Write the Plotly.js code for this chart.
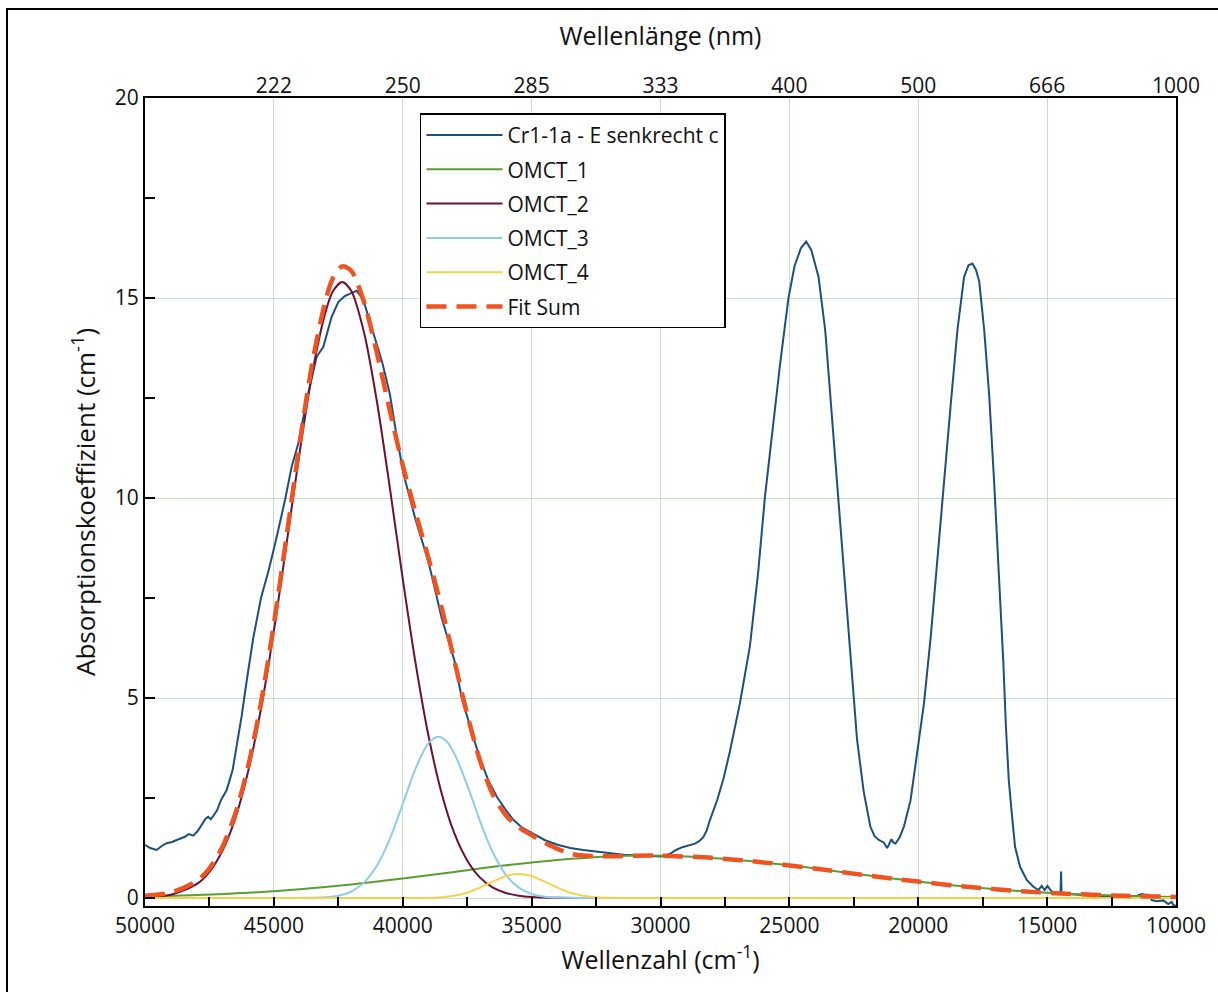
<!DOCTYPE html>
<html>
<head>
<meta charset="utf-8">
<script src="https://cdn.plot.ly/plotly-3.0.1.min.js"></script>
<style>
  html, body { margin: 0; padding: 0; background: #fff; }
  #wrap { position: relative; width: 1218px; height: 992px; }
  #chart { width: 1218px; height: 992px; }
  #frame { position: absolute; left: 6px; top: 8px; width: 1212px; height: 984px;
           border-left: 2px solid #000; border-top: 2px solid #000; pointer-events: none; box-sizing: border-box; }
</style>
</head>
<body>
<div id="wrap">
  <div id="chart"></div>
  <div id="frame"></div>
</div>
<script>
// ---- Data ----
const specWn = [50000,49800,49550,49350,49160,48950,48770,48600,48450,48300,48125,47950,47800,47650,47550,47450,47350,47200,47050,46830,46600,46440,46250,46050,45800,45500,45200,44900,44568,44310,44050,43727,43500,43340,43080,42760,42500,42250,42000,41786,41530,41140,40800,40500,40250,39970,39500,39000,38490,38000,37710,37300,36990,36650,36350,36000,35700,35350,34990,34500,34000,33500,33000,32470,32000,31434,30800,30000,29642,29400,29153,28900,28664,28500,28338,28200,28094,27800,27550,27312,26922,26532,26208,25948,25623,25364,25040,24800,24550,24350,24150,23870,23610,23416,23156,22896,22636,22377,22117,21857,21700,21532,21338,21260,21208,21150,21080,21039,20960,20883,20720,20558,20299,20000,19779,19519,19260,19000,18740,18480,18221,18050,17896,17760,17636,17441,17247,17052,16857,16700,16600,16488,16373,16244,16050,15790,15534,15340,15210,15100,14990,14820,14564,14480,14460,14440,14200,13600,13000,12558,12000,11523,11330,11200,11070,10940,10750,10490,10300,10170,10080,10000];
const specAbs = [1.33,1.25,1.2,1.3,1.37,1.4,1.45,1.5,1.53,1.6,1.56,1.68,1.82,1.98,2.03,1.97,2.05,2.2,2.45,2.7,3.2,3.78,4.55,5.45,6.5,7.5,8.2,9.0,9.95,10.78,11.37,12.45,13.1,13.53,13.78,14.53,14.9,15.05,15.12,15.18,14.95,14.12,13.4,12.6,11.6,10.6,9.45,8.4,7.0,5.95,5.0,4.1,3.45,2.9,2.53,2.2,1.95,1.75,1.62,1.45,1.33,1.25,1.2,1.16,1.12,1.08,1.06,1.04,1.1,1.2,1.27,1.32,1.36,1.42,1.52,1.7,1.93,2.45,3.0,3.65,4.86,6.29,8.16,10.03,11.9,13.33,14.98,15.8,16.25,16.41,16.2,15.53,14.2,12.56,10.36,8.16,5.96,3.98,2.66,1.78,1.55,1.45,1.39,1.32,1.25,1.32,1.45,1.47,1.38,1.36,1.52,1.78,2.44,3.76,4.86,6.51,8.49,10.36,12.34,14.2,15.53,15.82,15.86,15.7,15.42,14.2,12.56,10.36,8.0,5.9,4.3,2.95,2.12,1.28,0.78,0.45,0.28,0.2,0.3,0.2,0.3,0.16,0.12,0.12,0.66,0.12,0.1,0.08,0.05,0.03,0.04,0.05,0.1,0.08,0.08,-0.05,-0.08,-0.06,-0.15,-0.1,-0.2,-0.18];

const omct1Wn = [50000,48000,46000,44000,42000,40000,38000,36000,34000,32000,30500,29000,27000,25000,23000,21000,19000,17000,15000,13000,11000,10000];
const omct1Abs = [0.039,0.075,0.132,0.219,0.337,0.485,0.651,0.816,0.953,1.04,1.06,1.04,0.953,0.816,0.651,0.485,0.337,0.219,0.132,0.075,0.039,0.028];

const omct2Wn = [50000,49000,48000,47500,47000,46500,46000,45500,45000,44500,44000,43500,43000,42700,42350,42000,41500,41000,40500,40000,39500,39000,38500,38000,37500,37000,36500,36000,35500,35000,34000,33000,10000];
const omct2Abs = [0.015,0.08,0.345,0.656,1.175,1.985,3.16,4.73,6.68,8.89,11.14,13.16,14.64,15.18,15.4,15.18,14.13,12.4,10.25,7.98,5.86,4.05,2.64,1.62,0.94,0.51,0.26,0.127,0.058,0.025,0.004,0,0];

const omct3Wn = [50000,44000,43000,42500,42000,41500,41000,40500,40000,39500,39000,38620,38300,38000,37500,37000,36500,36000,35500,35000,34500,34000,33000,10000];
const omct3Abs = [0,0.003,0.018,0.057,0.16,0.39,0.81,1.48,2.35,3.24,3.87,4.03,3.92,3.61,2.83,1.92,1.13,0.58,0.26,0.1,0.033,0.01,0,0];

const omct4Wn = [50000,39500,39000,38500,38000,37500,37000,36500,36000,35500,35000,34500,34000,33500,33000,32500,32000,31500,10000];
const omct4Abs = [0,0,0.002,0.02,0.056,0.13,0.26,0.41,0.55,0.6,0.55,0.41,0.26,0.13,0.056,0.02,0.005,0,0];

const fitWn = [50000,49000,48000,47500,47000,46500,46000,45500,45000,44500,44000,43500,43000,42700,42350,42000,41500,41000,40500,40000,39500,39000,38500,38000,37500,37000,36500,36000,35500,35000,34500,34000,33500,33000,32000,31000,30000,28000,26000,24000,22000,20000,18000,16000,14000,12000,10000];
const fitAbs = [0.054,0.135,0.42,0.743,1.275,2.1,3.29,4.88,6.85,9.08,11.36,13.41,14.93,15.51,15.79,15.68,14.89,13.62,12.18,10.82,9.63,8.49,7.28,5.94,4.59,3.43,2.58,2.07,1.77,1.57,1.38,1.23,1.11,1.06,1.045,1.058,1.058,1.004,0.89,0.735,0.567,0.41,0.274,0.17,0.1,0.055,0.028];

const waveTickVals = [45000,40000,35000,30000,25000,20000,15000,10000];
const waveTickText = ['222','250','285','333','400','500','666','1000'];

const seriesNames = ['Cr1-1a - E senkrecht c','OMCT_1','OMCT_2','OMCT_3','OMCT_4','Fit Sum'];
const seriesColors = ['#1d4f7f','#5a9e31','#6d1032','#8fcbea','#f3d34a','#f0531f'];

// ---- Traces ----
const traces = [
  {x: specWn, y: specAbs, name: seriesNames[0], mode: 'lines', line: {color: seriesColors[0], width: 2, shape: 'linear'}, legendgroup: 'g0'},
  {x: omct1Wn, y: omct1Abs, name: seriesNames[1], mode: 'lines', line: {color: seriesColors[1], width: 2, shape: 'spline', smoothing: 1}, legendgroup: 'g1'},
  {x: omct2Wn, y: omct2Abs, name: seriesNames[2], mode: 'lines', line: {color: seriesColors[2], width: 2, shape: 'spline', smoothing: 0.8}, legendgroup: 'g2'},
  {x: omct3Wn, y: omct3Abs, name: seriesNames[3], mode: 'lines', line: {color: seriesColors[3], width: 2, shape: 'spline', smoothing: 0.8}, legendgroup: 'g3'},
  {x: omct4Wn, y: omct4Abs, name: seriesNames[4], mode: 'lines', line: {color: seriesColors[4], width: 2, shape: 'spline', smoothing: 0.8}, legendgroup: 'g4'},
  {x: fitWn, y: fitAbs, name: seriesNames[5], mode: 'lines', line: {color: seriesColors[5], width: 4.5, dash: '20px,10px', shape: 'spline', smoothing: 0.8}, legendgroup: 'g5'},
  {x: [50000, 10000], y: [null, null], xaxis: 'x2', mode: 'lines', showlegend: false, hoverinfo: 'skip'}
];

const font = 'Open Sans, Noto Sans, sans-serif';
const gridColor = '#c9dec9';

const layout = {
  width: 1218, height: 992,
  margin: {l: 145, r: 42, t: 98, b: 86},
  paper_bgcolor: '#ffffff', plot_bgcolor: '#ffffff',
  font: {family: font, color: '#111', size: 21},
  showlegend: true,
  legend: {
    x: 0.2667, y: 0.981, xanchor: 'left', yanchor: 'top',
    bgcolor: '#ffffff', bordercolor: '#000', borderwidth: 1.5,
    font: {family: font, size: 21, color: '#111'},
    traceorder: 'grouped', tracegroupgap: 4, itemwidth: 76
  },
  xaxis: {
    range: [50000, 10000], autorange: false,
    tickvals: [50000,45000,40000,35000,30000,25000,20000,15000,10000],
    ticktext: ['50000','45000','40000','35000','30000','25000','20000','15000','10000'],
    ticks: 'inside', ticklen: 9, tickwidth: 2, tickcolor: '#000',
    minor: {tickvals: [47500,42500,37500,32500,27500,22500,17500,12500], ticks: 'inside', ticklen: 9, tickwidth: 2, tickcolor: '#000', showgrid: false},
    showline: true, linecolor: '#000', linewidth: 2, mirror: true,
    showgrid: true, gridcolor: gridColor, gridwidth: 1,
    zeroline: false,
    tickfont: {family: font, size: 21, color: '#111'},
    title: {text: 'Wellenzahl (cm<sup>-1</sup>)', font: {family: font, size: 25, color: '#111'}, standoff: 10}
  },
  xaxis2: {
    overlaying: 'x', side: 'top', range: [50000, 10000], autorange: false,
    tickmode: 'array', tickvals: waveTickVals, ticktext: waveTickText,
    ticks: '', showline: false, showgrid: false, zeroline: false,
    tickfont: {family: font, size: 21, color: '#111'},
    title: {text: 'Wellenlänge (nm)', font: {family: font, size: 25, color: '#111'}, standoff: 18}
  },
  yaxis: {
    range: [-0.2, 20], autorange: false,
    tickvals: [0,5,10,15,20], ticktext: ['0','5','10','15','20'],
    ticks: 'inside', ticklen: 10, tickwidth: 2, tickcolor: '#000',
    minor: {tickvals: [2.5,7.5,12.5,17.5], ticks: 'inside', ticklen: 10, tickwidth: 2, tickcolor: '#000', showgrid: false},
    showline: true, linecolor: '#000', linewidth: 2, mirror: true,
    showgrid: true, gridcolor: gridColor, gridwidth: 1,
    zeroline: false,
    tickfont: {family: font, size: 21, color: '#111'},
    title: {text: 'Absorptionskoeffizient (cm<sup>-1</sup>)', font: {family: font, size: 26, color: '#111'}, standoff: 12}
  }
};

Plotly.newPlot('chart', traces, layout, {staticPlot: true, displayModeBar: false});
</script>
</body>
</html>
